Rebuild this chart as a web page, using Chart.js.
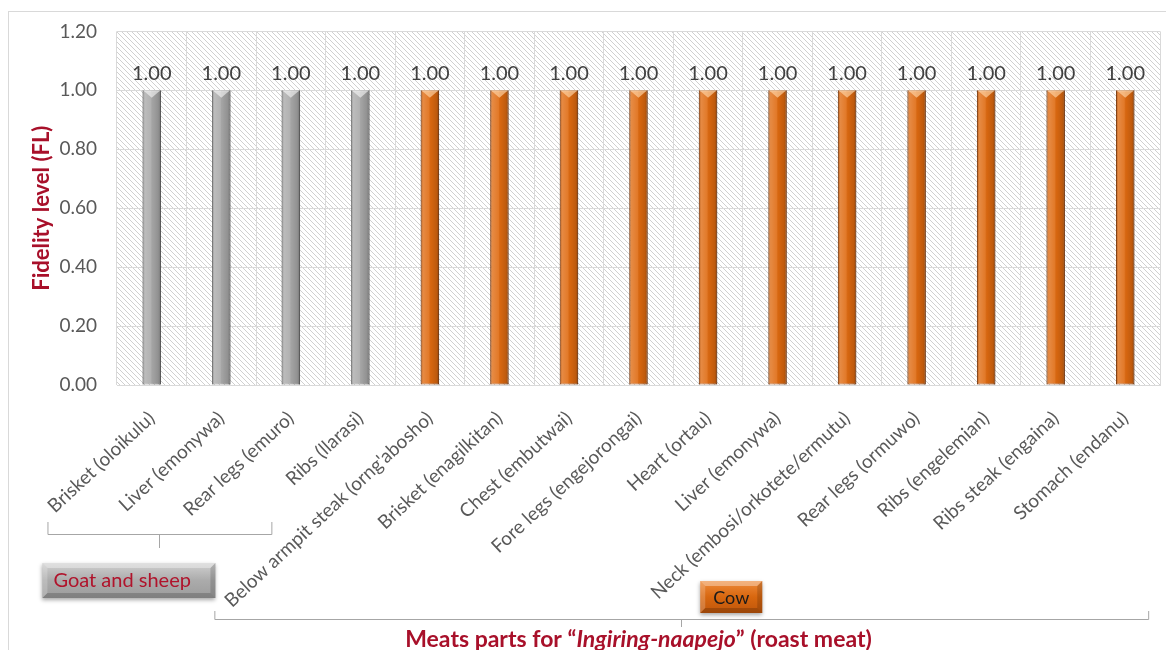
<!DOCTYPE html>
<html>
<head>
<meta charset="utf-8">
<title>Fidelity level of meat parts for Ingiring-naapejo</title>
<script src="https://cdn.jsdelivr.net/npm/chart.js@4.4.1/dist/chart.umd.min.js"></script>
<style>
  html, body { margin: 0; padding: 0; background: #ffffff; overflow: hidden; }
  #wrap { position: relative; width: 1166px; height: 650px; }
</style>
</head>
<body>
<div id="wrap"><canvas id="chart" width="1166" height="650"></canvas></div>
<script>
// ---- data ----
const categories = [
  'Brisket (oloikulu)', 'Liver (emonywa)', 'Rear legs (emuro)', 'Ribs (llarasi)',
  "Below armpit steak (orng'abosho)", 'Brisket (enagilkitan)', 'Chest (embutwai)',
  'Fore legs (engejorongai)', 'Heart (ortau)', 'Liver (emonywa)',
  'Neck (embosi/orkotete/ermutu)', 'Rear legs (ormuwo)', 'Ribs (engelemian)',
  'Ribs steak (engaina)', 'Stomach (endanu)'
];
const fidelity = [1.00, 1.00, 1.00, 1.00, 1.00, 1.00, 1.00, 1.00, 1.00, 1.00, 1.00, 1.00, 1.00, 1.00, 1.00];
const animalGroup = [
  'Goat and sheep', 'Goat and sheep', 'Goat and sheep', 'Goat and sheep',
  'Cow', 'Cow', 'Cow', 'Cow', 'Cow', 'Cow', 'Cow', 'Cow', 'Cow', 'Cow', 'Cow'
];
const groupNames = ['Goat and sheep', 'Cow'];
const yTicks = [0.00, 0.20, 0.40, 0.60, 0.80, 1.00, 1.20];

// ---- styling ----
const FONT = 'Lato, "Open Sans", "Liberation Sans", sans-serif';
const DARK_RED = '#A8102A';
const GRID = '#D9D9D9';
const groupStyle = {
  'Goat and sheep': { fill: '#A9A9A9', edge: '#7A7A7A', bevel: 'rgba(255,255,255,0.55)',
                      box: ['#D0D0D0', '#ABABAB', '#9C9C9C'], text: '#B0142C' },
  'Cow':            { fill: '#DF6A10', edge: '#9C4308', bevel: 'rgba(255,215,170,0.65)',
                      box: ['#EE8A3A', '#D8670F', '#BF560B'], text: '#1A1A1A' }
};

// diagonal hatch used behind the plot area
function makeHatch() {
  const c = document.createElement('canvas');
  c.width = 5; c.height = 5;
  const g = c.getContext('2d');
  g.fillStyle = '#FFFFFF';
  g.fillRect(0, 0, 5, 5);
  g.fillStyle = '#D0D0D0';
  for (let i = 0; i < 5; i++) g.fillRect(i, i, 1, 1);
  return g.createPattern(c, 'repeat');
}

const hatchBackground = {
  id: 'hatchBackground',
  beforeDraw(chart) {
    const { ctx, chartArea: a } = chart;
    ctx.save();
    // outer frame of the chart
    ctx.strokeStyle = GRID;
    ctx.lineWidth = 1;
    ctx.strokeRect(8.5, 11.5, 1200, 700);
    ctx.fillStyle = makeHatch();
    ctx.fillRect(a.left, a.top, a.right - a.left, a.bottom - a.top);
    ctx.restore();
  }
};

// cylinder-like shading on top of each bar, plus the value labels
const barDecor = {
  id: 'barDecor',
  afterDatasetsDraw(chart) {
    const { ctx } = chart;
    const meta = chart.getDatasetMeta(0);
    const values = chart.data.datasets[0].data;
    ctx.save();
    meta.data.forEach((bar, i) => {
      const { x, y, base, width } = bar.getProps(['x', 'y', 'base', 'width'], true);
      const st = groupStyle[animalGroup[i]];
      const l = x - width / 2, r = x + width / 2;
      const g = ctx.createLinearGradient(l, 0, r, 0);
      g.addColorStop(0, 'rgba(0,0,0,0.25)');
      g.addColorStop(0.12, 'rgba(255,255,255,0.22)');
      g.addColorStop(0.45, 'rgba(255,255,255,0.10)');
      g.addColorStop(0.55, 'rgba(0,0,0,0.04)');
      g.addColorStop(0.85, 'rgba(0,0,0,0.14)');
      g.addColorStop(1, 'rgba(0,0,0,0.32)');
      ctx.fillStyle = g;
      ctx.fillRect(l, y, width, base - y);
      // bevelled top
      ctx.beginPath();
      ctx.moveTo(l + 0.5, y);
      ctx.lineTo(r - 0.5, y);
      ctx.lineTo(x, y + width * 0.4);
      ctx.closePath();
      ctx.fillStyle = st.bevel;
      ctx.fill();
      // value label
      ctx.fillStyle = '#404040';
      ctx.font = '20px ' + FONT;
      ctx.textAlign = 'center';
      ctx.textBaseline = 'middle';
      ctx.fillText(Number(values[i]).toFixed(2), x, y - 17);
    });
    ctx.restore();
  }
};

function drawBox(ctx, x, y, w, h, st) {
  ctx.save();
  ctx.shadowColor = 'rgba(0,0,0,0.35)';
  ctx.shadowBlur = 4;
  ctx.shadowOffsetY = 2;
  const g = ctx.createLinearGradient(0, y, 0, y + h);
  g.addColorStop(0, st.box[0]);
  g.addColorStop(0.5, st.box[1]);
  g.addColorStop(1, st.box[2]);
  ctx.fillStyle = g;
  ctx.fillRect(x, y, w, h);
  ctx.restore();
  ctx.save();
  const b = 5;
  // light bevel on top and left, shade on bottom and right
  ctx.fillStyle = 'rgba(255,255,255,0.35)';
  ctx.beginPath(); ctx.moveTo(x, y); ctx.lineTo(x + w, y); ctx.lineTo(x + w - b, y + b); ctx.lineTo(x + b, y + b); ctx.closePath(); ctx.fill();
  ctx.fillStyle = 'rgba(255,255,255,0.2)';
  ctx.beginPath(); ctx.moveTo(x, y); ctx.lineTo(x + b, y + b); ctx.lineTo(x + b, y + h - b); ctx.lineTo(x, y + h); ctx.closePath(); ctx.fill();
  ctx.fillStyle = 'rgba(0,0,0,0.15)';
  ctx.beginPath(); ctx.moveTo(x + w, y); ctx.lineTo(x + w, y + h); ctx.lineTo(x + w - b, y + h - b); ctx.lineTo(x + w - b, y + b); ctx.closePath(); ctx.fill();
  ctx.fillStyle = 'rgba(0,0,0,0.18)';
  ctx.beginPath(); ctx.moveTo(x, y + h); ctx.lineTo(x + w, y + h); ctx.lineTo(x + w - b, y + h - b); ctx.lineTo(x + b, y + h - b); ctx.closePath(); ctx.fill();
  ctx.restore();
}

function drawBracket(ctx, x1, x2, y, rise, drop) {
  ctx.save();
  ctx.strokeStyle = '#A6A6A6';
  ctx.lineWidth = 1;
  ctx.beginPath();
  ctx.moveTo(x1 + 0.5, y - rise);
  ctx.lineTo(x1 + 0.5, y + 0.5);
  ctx.lineTo(x2 + 0.5, y + 0.5);
  ctx.lineTo(x2 + 0.5, y - rise);
  const mid = Math.round((x1 + x2) / 2) + 0.5;
  ctx.moveTo(mid, y);
  ctx.lineTo(mid, y + drop);
  ctx.stroke();
  ctx.restore();
}

// group brackets, group name boxes and the category axis title
const groupsAndTitle = {
  id: 'groupsAndTitle',
  afterDraw(chart) {
    const { ctx, chartArea: a } = chart;
    const xs = chart.scales.x;
    const band = (xs.getPixelForValue(1) - xs.getPixelForValue(0));
    const first = (name) => animalGroup.indexOf(name);
    const last = (name) => animalGroup.lastIndexOf(name);

    // Goat and sheep
    const gName = groupNames[0];
    const gx1 = xs.getPixelForValue(first(gName)) - 1.5 * band;
    const gx2 = xs.getPixelForValue(last(gName)) - 1.28 * band;
    drawBracket(ctx, gx1, gx2, a.bottom + 149, 12, 14);
    const gMid = (gx1 + gx2) / 2;
    drawBox(ctx, gMid - 117, a.bottom + 178, 173, 35, groupStyle[gName]);
    ctx.save();
    ctx.fillStyle = groupStyle[gName].text;
    ctx.font = '20px ' + FONT;
    ctx.textAlign = 'left';
    ctx.textBaseline = 'middle';
    ctx.fillText(gName, gMid - 106, a.bottom + 196);
    ctx.restore();

    // Cow
    const cName = groupNames[1];
    const cx1 = xs.getPixelForValue(first(cName)) - 3.1 * band;
    const cx2 = xs.getPixelForValue(last(cName)) + 0.33 * band;
    drawBracket(ctx, cx1, cx2, a.bottom + 234, 8, 8);
    const cMid = (cx1 + cx2) / 2;
    drawBox(ctx, cMid + 19, a.bottom + 196, 62, 32, groupStyle[cName]);
    ctx.save();
    ctx.fillStyle = groupStyle[cName].text;
    ctx.font = '18px ' + FONT;
    ctx.textAlign = 'center';
    ctx.textBaseline = 'middle';
    ctx.fillText(cName, cMid + 50, a.bottom + 213);
    ctx.restore();

    // category axis title with italic local name
    const parts = [
      { t: 'Meats parts for \u201C', italic: false },
      { t: 'Ingiring-naapejo', italic: true },
      { t: '\u201D (roast meat)', italic: false }
    ];
    ctx.save();
    ctx.fillStyle = DARK_RED;
    ctx.textBaseline = 'alphabetic';
    ctx.textAlign = 'left';
    const fontFor = (p) => (p.italic ? 'italic ' : '') + 'bold 23px ' + FONT;
    let total = 0;
    parts.forEach(p => { ctx.font = fontFor(p); p.w = ctx.measureText(p.t).width; total += p.w; });
    let cx = (a.left + a.right) / 2 - total / 2;
    parts.forEach(p => { ctx.font = fontFor(p); ctx.fillText(p.t, cx, a.bottom + 262); cx += p.w; });
    ctx.restore();
  }
};

new Chart(document.getElementById('chart'), {
  type: 'bar',
  data: {
    labels: categories,
    datasets: [{
      data: fidelity,
      backgroundColor: animalGroup.map(g => groupStyle[g].fill),
      borderColor: animalGroup.map(g => groupStyle[g].edge),
      borderWidth: 1,
      borderSkipped: false,
      categoryPercentage: 1,
      barPercentage: 0.265
    }]
  },
  options: {
    responsive: false,
    animation: false,
    devicePixelRatio: 1,
    layout: { padding: { left: 8, right: 6, top: 30, bottom: 0 } },
    plugins: { legend: { display: false }, tooltip: { enabled: false }, title: { display: false } },
    scales: {
      x: {
        offset: true,
        grid: { offset: true, color: GRID, drawTicks: false },
        border: { color: GRID },
        ticks: {
          autoSkip: false,
          maxRotation: 43,
          minRotation: 43,
          padding: 22,
          color: '#595959',
          font: { family: FONT, size: 19 }
        },
        afterFit(scale) { scale.height = 265; }
      },
      y: {
        min: yTicks[0],
        max: yTicks[yTicks.length - 1],
        afterBuildTicks(scale) { scale.ticks = yTicks.map(v => ({ value: v })); },
        grid: { color: GRID, drawTicks: false },
        border: { display: false },
        ticks: {
          padding: 20,
          color: '#595959',
          font: { family: FONT, size: 19 },
          callback: (v) => Number(v).toFixed(2)
        },
        title: {
          display: true,
          text: 'Fidelity level (FL)',
          color: DARK_RED,
          font: { family: FONT, size: 22, weight: 'bold' },
          padding: { top: 21, bottom: 0 }
        },
        afterFit(scale) { scale.width = 109; }
      }
    }
  },
  plugins: [hatchBackground, barDecor, groupsAndTitle]
});
</script>
</body>
</html>
